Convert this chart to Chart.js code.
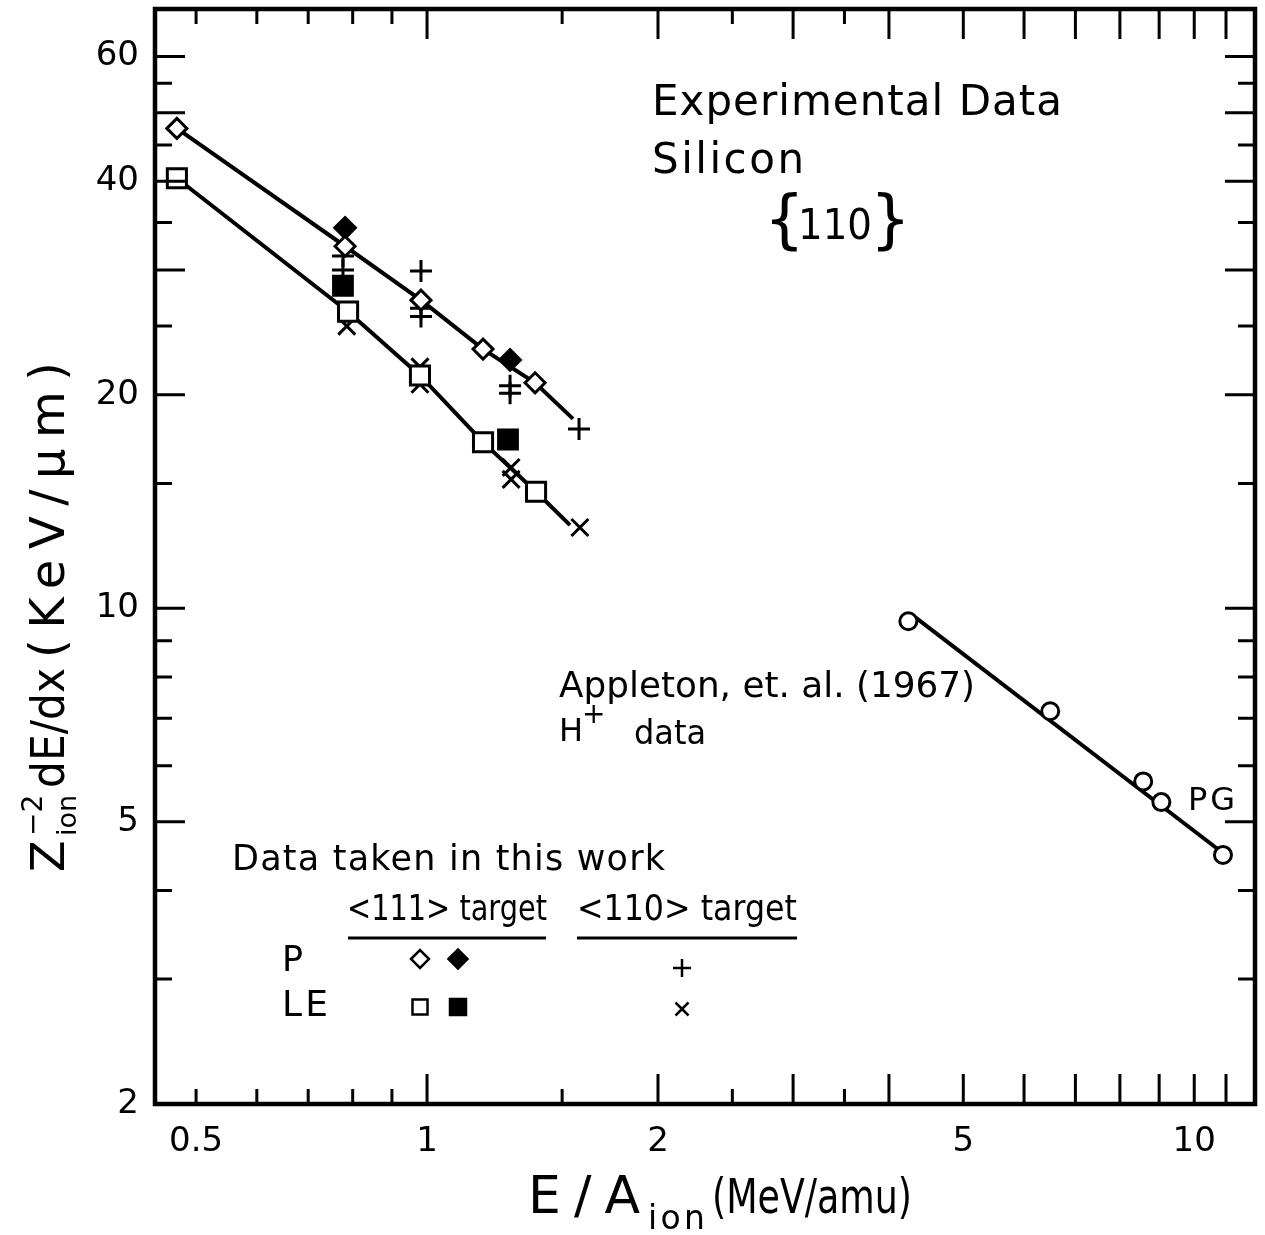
<!DOCTYPE html>
<html>
<head>
<meta charset="utf-8">
<script src="https://cdn.jsdelivr.net/npm/chart.js@4.4.1/dist/chart.umd.min.js"></script>
<style>
  html, body { margin: 0; padding: 0; background: #fff; }
  canvas { display: block; }
</style>
</head>
<body>
<canvas id="chart" width="1265" height="1235" style="width:1265px;height:1235px"></canvas>
<script>
// values (E/A in MeV/amu, Z^-2 dE/dx in KeV/um)

// P beam, <111> target, open diamonds
const pOpenE = [0.472, 0.782, 0.982, 1.183, 1.383];
const pOpenS = [47.5, 32.4, 27.2, 23.2, 20.8];
// P beam, <111> target, filled diamonds
const pFillE = [0.782, 1.283];
const pFillS = [34.4, 22.4];
// P beam, <110> target, plus
const pPlusE = [0.777, 0.777, 0.982, 0.982, 0.982, 1.283, 1.283, 1.578];
const pPlusS = [31.4, 30.0, 29.9, 26.5, 25.8, 20.6, 20.1, 17.9];

// LE beam, <111> target, open squares
const leOpenE = [0.472, 0.789, 0.979, 1.183, 1.387];
const leOpenS = [40.4, 26.2, 21.3, 17.15, 14.6];
// LE beam, <111> target, filled squares
const leFillE = [0.777, 1.275];
const leFillS = [28.5, 17.3];
// LE beam, <110> target, crosses
const leCrossE = [0.786, 0.979, 0.979, 1.287, 1.287, 1.582];
const leCrossS = [25.0, 21.9, 20.7, 15.8, 15.2, 13.0];

// Appleton et al. (1967), H+ data
const hE = [4.24, 6.49, 8.58, 9.06, 10.9];
const hS = [9.59, 7.16, 5.70, 5.33, 4.49];

// hand drawn curves
const pLineE = pOpenE.concat([1.55]);
const pLineS = pOpenS.concat([18.5]);
const leLineE = leOpenE.concat([1.536]);
const leLineS = leOpenS.concat([13.1]);
const hLineE = [4.33, 10.75];
const hLineS = [9.71, 4.57];

// axes
const xLabelTicks = [0.5, 1, 2, 5, 10];
const xMajorTicks = [1, 2, 3, 4, 5, 6, 7, 8, 9, 10, 11];
const xMinorTicks = [0.5, 0.6, 0.7, 0.8, 0.9, 1.5, 2.5, 3.5];
const yLabelTicks = [2, 5, 10, 20, 40, 60];
const yMajorTicks = [5, 10, 20, 30, 40, 50, 60];
const yMinorTicks = [3, 4, 6, 7, 8, 9, 15, 25, 35, 45, 55];

const FONT = 'DejaVu Sans';

const pts = (xs, ys) => xs.map((v, i) => ({ x: v, y: ys[i] }));

// draw text fitted to a width: spread with letter spacing or squeeze
function fitText(ctx, text, x, y, size, width) {
  ctx.font = size + 'px "' + FONT + '"';
  ctx.letterSpacing = '0px';
  const w = ctx.measureText(text).width;
  if (!width || text.length < 2) {
    ctx.fillText(text, x, y);
  } else if (w > width) {
    ctx.save();
    ctx.translate(x, y);
    ctx.scale(width / w, 1);
    ctx.fillText(text, 0, 0);
    ctx.restore();
  } else {
    ctx.letterSpacing = ((width - w) / (text.length - 1)) + 'px';
    ctx.fillText(text, x, y);
    ctx.letterSpacing = '0px';
  }
}

function marker(ctx, style, x, y, r, filled) {
  ctx.beginPath();
  if (style === 'diamond') {
    ctx.moveTo(x - r, y); ctx.lineTo(x, y - r); ctx.lineTo(x + r, y); ctx.lineTo(x, y + r); ctx.closePath();
  } else if (style === 'square') {
    ctx.rect(x - r, y - r, 2 * r, 2 * r);
  } else if (style === 'plus') {
    ctx.moveTo(x - r, y); ctx.lineTo(x + r, y); ctx.moveTo(x, y - r); ctx.lineTo(x, y + r);
  } else if (style === 'x') {
    ctx.moveTo(x - r, y - r); ctx.lineTo(x + r, y + r); ctx.moveTo(x + r, y - r); ctx.lineTo(x - r, y + r);
  }
  if (style === 'diamond' || style === 'square') {
    ctx.fillStyle = filled ? '#000' : '#fff';
    ctx.fill();
  }
  ctx.stroke();
}

const frame = {
  id: 'frame',
  afterDatasetsDraw(chart) {
    const { ctx, chartArea: a, scales: { x, y } } = chart;
    ctx.save();
    ctx.strokeStyle = '#000';
    ctx.lineWidth = 3;
    ctx.beginPath();
    const tickX = (v, len) => {
      const p = x.getPixelForValue(v);
      ctx.moveTo(p, a.bottom); ctx.lineTo(p, a.bottom - len);
      ctx.moveTo(p, a.top); ctx.lineTo(p, a.top + len);
    };
    const tickY = (v, len) => {
      const p = y.getPixelForValue(v);
      ctx.moveTo(a.left, p); ctx.lineTo(a.left + len, p);
      ctx.moveTo(a.right, p); ctx.lineTo(a.right - len, p);
    };
    xMajorTicks.forEach(v => tickX(v, 30));
    xMinorTicks.forEach(v => tickX(v, 15));
    yMajorTicks.forEach(v => tickY(v, 30));
    yMinorTicks.forEach(v => tickY(v, 17));
    ctx.stroke();
    ctx.lineWidth = 4.5;
    ctx.strokeRect(a.left, a.top, a.right - a.left, a.bottom - a.top);
    ctx.restore();
  }
};

const notes = {
  id: 'notes',
  afterDraw(chart) {
    const ctx = chart.ctx;
    ctx.save();
    ctx.fillStyle = '#000';
    ctx.strokeStyle = '#000';
    ctx.textAlign = 'left';
    ctx.textBaseline = 'middle';

    fitText(ctx, 'Experimental Data', 652, 104, 42, 410);
    fitText(ctx, 'Silicon', 652, 162, 42, 152);
    fitText(ctx, '{', 764, 224, 64, 0);
    fitText(ctx, '110', 798, 228, 42, 74);
    fitText(ctx, '}', 870, 224, 64, 0);

    fitText(ctx, 'Appleton, et. al. (1967)', 559, 688, 36, 416);
    fitText(ctx, 'H', 559, 733, 32, 0);
    fitText(ctx, '+', 582, 716, 28, 0);
    fitText(ctx, 'data', 634, 735, 33, 72);
    fitText(ctx, 'PG', 1188, 802, 32, 47);

    fitText(ctx, 'Data taken in this work', 232, 861, 35, 433);
    fitText(ctx, '<111> target', 347, 911, 35, 200);
    fitText(ctx, '<110> target', 577, 911, 35, 220);
    fitText(ctx, 'P', 282, 962, 35, 0);
    fitText(ctx, 'LE', 282, 1007, 36, 46);

    ctx.lineWidth = 3;
    ctx.beginPath();
    ctx.moveTo(348, 938); ctx.lineTo(546, 938);
    ctx.moveTo(577, 938); ctx.lineTo(797, 938);
    ctx.stroke();

    ctx.lineWidth = 2.5;
    marker(ctx, 'diamond', 420, 959, 9, false);
    marker(ctx, 'diamond', 458, 959, 9.5, true);
    marker(ctx, 'plus', 682, 968, 9, false);
    marker(ctx, 'square', 420, 1007, 7.5, false);
    marker(ctx, 'square', 458, 1007, 8, true);
    marker(ctx, 'x', 682, 1009, 6.5, false);

    // x axis title
    ctx.textBaseline = 'alphabetic';
    fitText(ctx, 'E/A', 528, 1213, 52, 112);
    fitText(ctx, 'ion', 648, 1229, 33, 57);
    fitText(ctx, '(MeV/amu)', 712, 1213, 48, 200);

    // y axis title, rotated
    ctx.translate(64, 872);
    ctx.rotate(-Math.PI / 2);
    fitText(ctx, 'Z', 0, 0, 46, 0);
    fitText(ctx, '\u22122', 36, -22, 28, 0);
    fitText(ctx, 'ion', 36, 12, 27, 0);
    fitText(ctx, 'dE/dx', 84, 0, 46, 120);
    fitText(ctx, '(KeV/\u03bcm)', 214, 0, 48, 296);
    ctx.restore();
  }
};

const tickFont = { family: FONT, size: 34 };

new Chart(document.getElementById('chart'), {
  type: 'scatter',
  data: {
    datasets: [
      { data: pts(pOpenE, pOpenS), pointStyle: 'rectRot', pointRadius: 10, pointBorderWidth: 3,
        pointBackgroundColor: '#fff', pointBorderColor: '#000', order: 2 },
      { data: pts(pFillE, pFillS), pointStyle: 'rectRot', pointRadius: 11, pointBorderWidth: 2,
        pointBackgroundColor: '#000', pointBorderColor: '#000', order: 4 },
      { data: pts(pPlusE, pPlusS), pointStyle: 'cross', pointRadius: 11, pointBorderWidth: 3,
        pointBorderColor: '#000', order: 3 },
      { data: pts(leOpenE, leOpenS), pointStyle: 'rect', pointRadius: 13.5, pointBorderWidth: 3,
        pointBackgroundColor: '#fff', pointBorderColor: '#000', order: 2 },
      { data: pts(leFillE, leFillS), pointStyle: 'rect', pointRadius: 14, pointBorderWidth: 2,
        pointBackgroundColor: '#000', pointBorderColor: '#000', order: 4 },
      { data: pts(leCrossE, leCrossS), pointStyle: 'crossRot', pointRadius: 12, pointBorderWidth: 3,
        pointBorderColor: '#000', order: 3 },
      { data: pts(hE, hS), pointStyle: 'circle', pointRadius: 8.5, pointBorderWidth: 3,
        pointBackgroundColor: '#fff', pointBorderColor: '#000', order: 2 },
      { data: pts(pLineE, pLineS), showLine: true, borderColor: '#000', borderWidth: 4, pointRadius: 0, order: 10 },
      { data: pts(leLineE, leLineS), showLine: true, borderColor: '#000', borderWidth: 4, pointRadius: 0, order: 10 },
      { data: pts(hLineE, hLineS), showLine: true, borderColor: '#000', borderWidth: 4, pointRadius: 0, order: 10 }
    ]
  },
  options: {
    responsive: false,
    devicePixelRatio: 1,
    animation: false,
    layout: { autoPadding: false, padding: { top: 9, right: 10, left: 0, bottom: 0 } },
    plugins: { legend: { display: false }, tooltip: { enabled: false } },
    scales: {
      x: {
        type: 'logarithmic',
        min: 0.442,
        max: 12,
        afterBuildTicks: s => { s.ticks = xLabelTicks.map(v => ({ value: v })); },
        afterFit: s => { s.height = 131; s.paddingLeft = 0; s.paddingRight = 0; },
        grid: { display: false, drawTicks: false },
        border: { display: false },
        ticks: { font: tickFont, color: '#000', padding: 18, maxRotation: 0, autoSkip: false,
                 callback: v => String(v) }
      },
      y: {
        type: 'logarithmic',
        min: 2,
        max: 70,
        afterBuildTicks: s => { s.ticks = yLabelTicks.map(v => ({ value: v })); },
        afterFit: s => { s.width = 155; s.paddingTop = 0; s.paddingBottom = 0; },
        grid: { display: false, drawTicks: false },
        border: { display: false },
        ticks: { font: tickFont, color: '#000', padding: 16, autoSkip: false,
                 callback: v => String(v) }
      }
    }
  },
  plugins: [frame, notes]
});
</script>
</body>
</html>
